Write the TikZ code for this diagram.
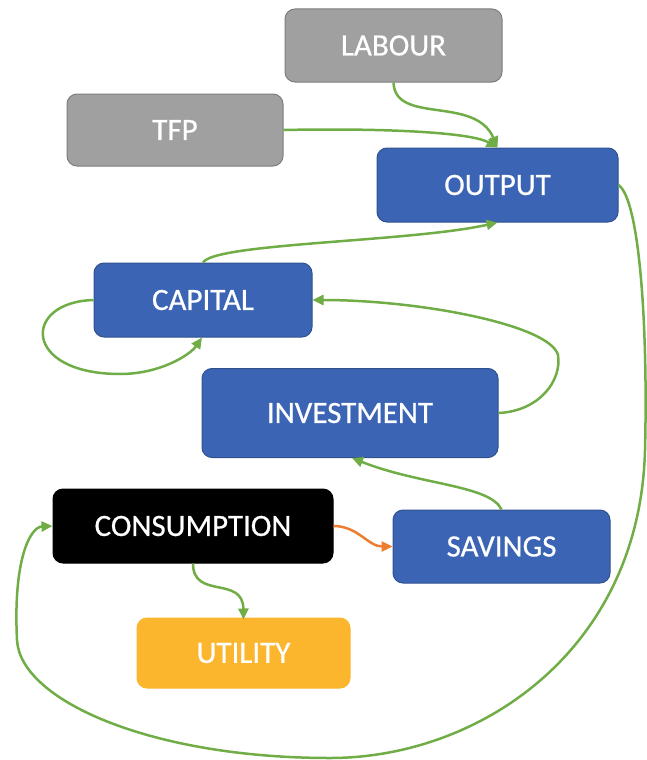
\documentclass[tikz,border=0pt]{standalone}
\usepackage{fontspec}
\setmainfont{Carlito}
\newfontfamily\boxfont{Carlito}[FakeBold=0.6]
\usetikzlibrary{arrows.meta}
\definecolor{boxgray}{RGB}{160,160,160}
\definecolor{boxgrayd}{RGB}{125,125,125}
\definecolor{boxblue}{RGB}{59,100,180}
\definecolor{boxblued}{RGB}{47,82,143}
\definecolor{boxgold}{RGB}{251,182,46}
\definecolor{lngreen}{RGB}{112,173,71}
\definecolor{lnorange}{RGB}{237,125,49}
\tikzset{
  box/.style={rectangle, rounded corners=10pt, inner sep=0pt, line width=1pt,
    text=white, font=\boxfont\fontsize{31}{36}\selectfont},
  graybox/.style={box, fill=boxgray, draw=boxgrayd},
  bluebox/.style={box, fill=boxblue, draw=boxblued},
  blackbox/.style={box, fill=black, draw=black},
  goldbox/.style={box, fill=boxgold, draw=boxgold},
  conn/.style={draw=lngreen, line width=2.5pt, -{Triangle[length=11pt,width=10pt]}},
  oconn/.style={conn, draw=lnorange},
}
\begin{document}
\begin{tikzpicture}[x=1pt,y=-1pt]
\useasboundingbox (0,0) rectangle (647,760);
\node[graybox, minimum width=217pt, minimum height=73pt] (lab) at (393.5,45.5) {LABOUR};
\node[graybox, minimum width=216pt, minimum height=72pt] (tfp) at (175,130) {TFP};
\node[bluebox, minimum width=241pt, minimum height=74pt] (out) at (497.5,185) {OUTPUT};
\node[bluebox, minimum width=218pt, minimum height=74pt] (cap) at (203,300) {CAPITAL};
\node[bluebox, minimum width=296pt, minimum height=89pt] (inv) at (350,413) {INVESTMENT};
\node[blackbox, minimum width=280pt, minimum height=74pt] (con) at (193,526) {CONSUMPTION};
\node[bluebox, minimum width=217pt, minimum height=73pt] (sav) at (501.5,546.5) {SAVINGS};
\node[goldbox, minimum width=213pt, minimum height=70pt] (uti) at (243.5,653) {UTILITY};

% LABOUR -> OUTPUT
\draw[conn] (lab.south) .. controls (395,125) and (475,95) .. (out.north);
% TFP -> OUTPUT
\draw[conn] (tfp.east) .. controls (380,128) and (470,132) .. (out.north);
% CAPITAL -> OUTPUT
\draw[conn] (cap.north) .. controls (215,243) and (410,242) .. (out.south);
% CAPITAL self loop
\draw[conn] (cap.west) .. controls (22,302) and (22,374) .. (120,374)
  .. controls (160,374) and (190,355) .. ([xshift=-1pt]cap.south);
% INVESTMENT -> CAPITAL
\draw[conn] (inv.east) .. controls (540,411) and (562,380) .. (558,355)
  .. controls (550,325) and (420,300) .. (cap.east);
% SAVINGS -> INVESTMENT
\draw[conn] (sav.north) .. controls (490,485) and (420,485) .. ([xshift=2pt]inv.south);
% CONSUMPTION -> SAVINGS
\draw[oconn] (con.east) to[out=0,in=180] (sav.west);
% CONSUMPTION -> UTILITY
\draw[conn] (con.south) .. controls (193,600) and (243,575) .. ([yshift=-2pt]uti.north);
% OUTPUT -> CONSUMPTION (long loop)
\draw[conn] (out.east) .. controls (640,200) and (648,330) .. (645,450)
  .. controls (640,650) and (480,758) .. (330,758)
  .. controls (150,758) and (20,700) .. (17,640)
  .. controls (13,560) and (30,527) .. (con.west);
\end{tikzpicture}
\end{document}
